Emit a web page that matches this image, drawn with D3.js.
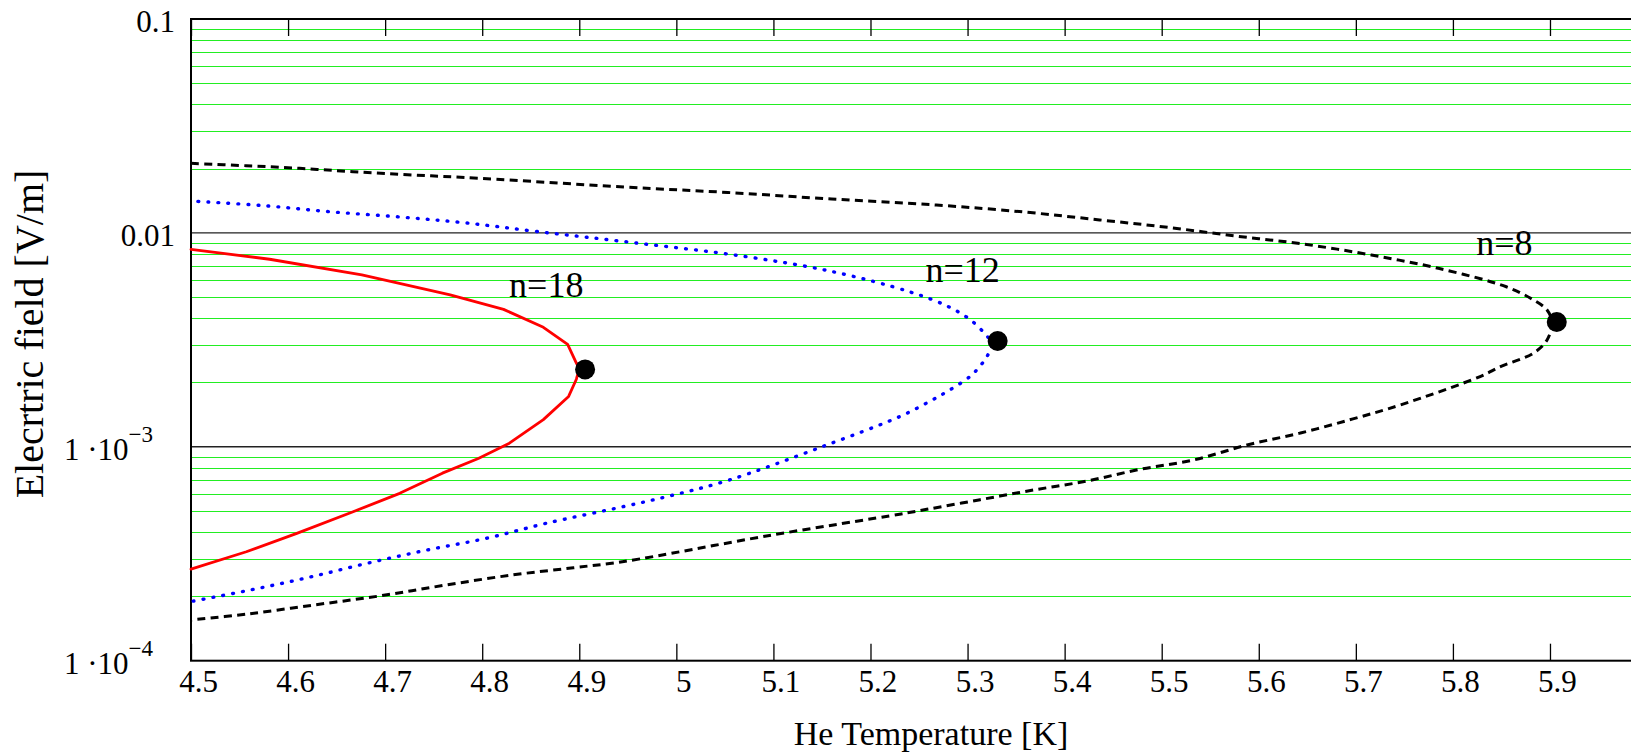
<!DOCTYPE html>
<html>
<head>
<meta charset="utf-8">
<script src="https://cdn.jsdelivr.net/npm/d3@7"></script>
<style>
  html, body { margin: 0; padding: 0; background: #fff; }
  svg { display: block; }
  text { font-family: "Liberation Serif", "DejaVu Serif", serif; fill: #000; }
</style>
</head>
<body>
<svg id="chart" width="1631" height="754"></svg>
<script>
// He temperature [K] vs electric field [V/m] for three levels n = 18, 12, 8

// n = 18 (red, solid): upper branch -> turning point -> lower branch
const n18T = [4.500, 4.581, 4.676, 4.767, 4.822, 4.863, 4.888, 4.897, 4.900, 4.897, 4.889, 4.863, 4.828, 4.796, 4.759, 4.715, 4.667, 4.609, 4.557, 4.500];
const n18E = [0.00838, 0.00753, 0.00636, 0.00513, 0.00439, 0.00362, 0.00301, 0.00246, 0.00232, 0.00207, 0.00172, 0.00134, 0.00104, 0.000881, 0.000753, 0.000606, 0.000497, 0.000394, 0.000323, 0.000268];

// n = 12 (blue, dotted)
const n12T = [4.500, 4.575, 4.643, 4.712, 4.781, 4.858, 4.956, 5.067, 5.161, 5.240, 5.279, 5.303, 5.319, 5.325, 5.320, 5.313, 5.303, 5.283, 5.262, 5.231, 5.150, 5.053, 4.989, 4.946, 4.866, 4.805, 4.743, 4.681, 4.621, 4.561, 4.500];
const n12E = [0.0141, 0.01341, 0.01256, 0.01190, 0.01116, 0.01013, 0.00900, 0.00780, 0.00659, 0.00531, 0.00455, 0.00392, 0.00333, 0.00306, 0.00264, 0.00239, 0.00214, 0.00186, 0.00164, 0.00139, 0.00100, 0.000696, 0.000583, 0.000526, 0.000439, 0.000374, 0.000329, 0.000285, 0.000245, 0.000214, 0.000189];

// n = 8 (black, dashed)
const n8T = [4.500, 4.557, 4.612, 4.667, 4.729, 4.798, 4.946, 5.053, 5.160, 5.268, 5.360, 5.436, 5.506, 5.576, 5.646, 5.716, 5.785, 5.855, 5.883, 5.897, 5.902, 5.897, 5.883, 5.849, 5.828, 5.746, 5.697, 5.643, 5.588, 5.533, 5.478, 5.423, 5.368, 5.313, 5.258, 5.230, 5.096, 4.946, 4.894, 4.832, 4.763, 4.695, 4.626, 4.557, 4.500];
const n8E = [0.02115, 0.02061, 0.02004, 0.01932, 0.01865, 0.01800, 0.01639, 0.01545, 0.01440, 0.01350, 0.01250, 0.01150, 0.01062, 0.00967, 0.00887, 0.00788, 0.00683, 0.00560, 0.00486, 0.00436, 0.00383, 0.00316, 0.00274, 0.00237, 0.00213, 0.00157, 0.00135, 0.00116, 0.00102, 0.000868, 0.000785, 0.000692, 0.000628, 0.000566, 0.000510, 0.000484, 0.000385, 0.000291, 0.000272, 0.000252, 0.000226, 0.000201, 0.000182, 0.000165, 0.000155];

// Turning points (marked with filled circles)
const peakT = [4.906, 5.331, 5.907];
const peakE = [0.00230, 0.003125, 0.00383];

// Curve labels
const labelText = ["n=18", "n=12", "n=8"];
const labelT = [4.866, 5.295, 5.853];
const labelE = [0.00502, 0.00591, 0.00788];

// Axis ticks
const xTickValues = [4.5, 4.6, 4.7, 4.8, 4.9, 5.0, 5.1, 5.2, 5.3, 5.4, 5.5, 5.6, 5.7, 5.8, 5.9];
const xTickLabels = ["4.5", "4.6", "4.7", "4.8", "4.9", "5", "5.1", "5.2", "5.3", "5.4", "5.5", "5.6", "5.7", "5.8", "5.9"];
const yTickValues = [0.1, 0.01, 0.001, 0.0001];
const yTickMantissa = ["0.1", "0.01", "1 \u00b710", "1 \u00b710"];
const yTickExponent = ["", "", "\u22123", "\u22124"];
const yMinorMultipliers = [2, 3, 4, 5, 6, 7, 8, 9];
const yMinorDecades = [0.0001, 0.001, 0.01];

(function draw() {
  const svg = d3.select("#chart");
  const plotLeft = 191, plotTop = 19, plotBottom = 660.7;
  const plotRight = plotLeft + 1.5 * 970.7;

  const x = d3.scaleLinear().domain([4.5, 6.0]).range([plotLeft, plotRight]);
  const y = d3.scaleLog().domain([1e-4, 0.1]).range([plotBottom, plotTop]);

  // Green minor grid lines at 2..9 of each decade
  const minor = [];
  yMinorDecades.forEach(d => yMinorMultipliers.forEach(m => minor.push(d * m)));
  svg.append("g")
    .selectAll("line")
    .data(minor)
    .join("line")
    .attr("x1", plotLeft).attr("x2", plotRight)
    .attr("y1", d => Math.round(y(d)) + 0.5)
    .attr("y2", d => Math.round(y(d)) + 0.5)
    .attr("stroke", "#22ee22")
    .attr("stroke-width", 1.1);

  // Black major grid lines at the inner decades
  svg.append("g")
    .selectAll("line")
    .data([0.01, 0.001])
    .join("line")
    .attr("x1", plotLeft).attr("x2", plotRight)
    .attr("y1", d => y(d)).attr("y2", d => y(d))
    .attr("stroke", "#222")
    .attr("stroke-width", 1.4);

  // Bottom axis: inward ticks, labels below
  const xAxisBottom = d3.axisBottom(x)
    .tickValues(xTickValues)
    .tickSize(-17)
    .tickFormat((d, i) => xTickLabels[i]);
  const gxb = svg.append("g").attr("transform", `translate(0,${plotBottom})`).call(xAxisBottom);
  gxb.select(".domain").remove();
  gxb.selectAll(".tick line").attr("stroke", "#000").attr("stroke-width", 1.3);
  gxb.selectAll(".tick text")
    .attr("y", 31).attr("dy", 0).attr("x", 7)
    .attr("fill", "#000")
    .style("font-size", "31px")
    .style("font-family", "'Liberation Serif', serif");

  // Top axis: mirrored inward ticks, no labels
  const xAxisTop = d3.axisTop(x).tickValues(xTickValues).tickSize(-17).tickFormat("");
  const gxt = svg.append("g").attr("transform", `translate(0,${plotTop})`).call(xAxisTop);
  gxt.select(".domain").remove();
  gxt.selectAll(".tick line").attr("stroke", "#000").attr("stroke-width", 1.3);

  // Left axis labels (powers of ten written as mantissa plus superscript)
  const yl = svg.append("g")
    .selectAll("text")
    .data(yTickValues)
    .join("text")
    .attr("text-anchor", "end")
    .attr("x", (d, i) => yTickExponent[i] ? 153 : 175)
    .attr("y", d => y(d) + 13)
    .style("font-size", "31px")
    .style("white-space", "pre");
  yl.append("tspan").text((d, i) => yTickMantissa[i]);
  yl.append("tspan")
    .attr("dy", -18)
    .style("font-size", "23px")
    .text((d, i) => yTickExponent[i]);

  // Plot frame
  svg.append("rect")
    .attr("x", plotLeft).attr("y", plotTop)
    .attr("width", plotRight - plotLeft).attr("height", plotBottom - plotTop)
    .attr("fill", "none")
    .attr("stroke", "#000")
    .attr("stroke-width", 2);

  // Curves: computed curves smoothed, n = 18 drawn segment by segment
  const series = [
    { T: n8T, E: n8E, color: "#000", width: 3, dash: "8,5.3", cap: "butt", curve: d3.curveCatmullRom.alpha(0.5) },
    { T: n12T, E: n12E, color: "#0000ff", width: 3.4, dash: "0.8,9.2", cap: "round", offset: -7, curve: d3.curveCatmullRom.alpha(0.5) },
    { T: n18T, E: n18E, color: "#ff0000", width: 2.8, dash: null, cap: "round", curve: d3.curveLinear }
  ];
  series.forEach(s => {
    const pts = s.T.map((t, i) => [t, s.E[i]]);
    const line = d3.line().x(d => x(d[0])).y(d => y(d[1])).curve(s.curve);
    const p = svg.append("path")
      .datum(pts)
      .attr("d", line)
      .attr("fill", "none")
      .attr("stroke", s.color)
      .attr("stroke-width", s.width)
      .attr("stroke-linecap", s.cap)
      .attr("stroke-linejoin", "round");
    if (s.dash) p.attr("stroke-dasharray", s.dash);
    if (s.offset) p.attr("stroke-dashoffset", s.offset);
  });

  // Turning-point markers
  svg.append("g")
    .selectAll("circle")
    .data(peakT)
    .join("circle")
    .attr("cx", d => x(d))
    .attr("cy", (d, i) => y(peakE[i]))
    .attr("r", 10)
    .attr("fill", "#000");

  // Curve labels
  svg.append("g")
    .selectAll("text")
    .data(labelText)
    .join("text")
    .attr("text-anchor", "middle")
    .attr("x", (d, i) => x(labelT[i]))
    .attr("y", (d, i) => y(labelE[i]))
    .style("font-size", "36px")
    .text(d => d);

  // Axis titles
  svg.append("text")
    .attr("text-anchor", "middle")
    .attr("x", 931)
    .attr("y", 745)
    .style("font-size", "34px")
    .text("He Temperature [K]");

  svg.append("text")
    .attr("text-anchor", "middle")
    .attr("transform", "translate(43,334) rotate(-90)")
    .style("font-size", "40px")
    .text("Elecrtric field [V/m]");
})();
</script>
</body>
</html>
